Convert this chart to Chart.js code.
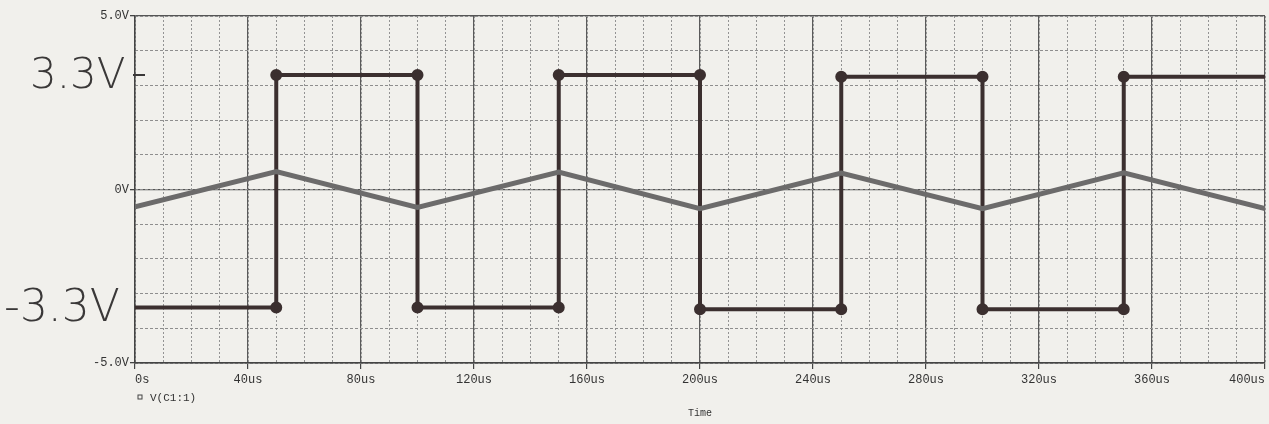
<!DOCTYPE html>
<html lang="en">
    <head>
        <meta charset="UTF-8" />
        <title>V(C1:1)</title>
        <script src="https://cdn.jsdelivr.net/npm/chart.js"></script>
        <style>
            body {
                margin: 0;
                background-color: #f1f0ec;
            }

            #wrap {
                width: 1269px;
                height: 424px;
                position: relative;
            }
        </style>
    </head>
    <body>
        <div id="wrap"><canvas id="scope"></canvas></div>

        <script>
            // square wave (dark trace), time in us
            const squareTime = [0, 50, 50, 100, 100, 150, 150, 200, 200, 250, 250, 300, 300, 350, 350, 400];
            const squareVolt = [-3.4, -3.4, 3.3, 3.3, -3.4, -3.4, 3.3, 3.3, -3.45, -3.45, 3.25, 3.25, -3.45, -3.45, 3.25, 3.25];

            // triangle wave (grey trace)
            const triTime = [0, 50, 100, 150, 200, 250, 300, 350, 400];
            const triVolt = [-0.5, 0.52, -0.52, 0.5, -0.55, 0.47, -0.55, 0.48, -0.55];

            const xTicks = [0, 40, 80, 120, 160, 200, 240, 280, 320, 360, 400];
            const yTicks = [-5, 0, 5];

            const monoFont = { family: 'Liberation Mono, DejaVu Sans Mono, monospace', size: 12 };

            const toPoints = (xs, ys) => xs.map((x, i) => ({ x: x, y: ys[i] }));

            // handwritten notes, legend label and small pen mark
            const notes = {
                id: 'notes',
                afterDraw(chart) {
                    const c = chart.ctx;
                    const y = chart.scales.y;
                    const left = chart.chartArea.left;
                    c.save();
                    c.fillStyle = '#3a3838';
                    c.textBaseline = 'middle';
                    c.font = '300 42px "DejaVu Sans", sans-serif';
                    c.fillText('3.3V', 30, y.getPixelForValue(3.3) + 2);
                    c.font = '300 44px "DejaVu Sans", sans-serif';
                    c.fillText('-3.3V', 4, y.getPixelForValue(-3.4) + 2);

                    c.strokeStyle = '#3a3838';
                    c.lineWidth = 2;
                    c.beginPath();
                    c.moveTo(left - 2, y.getPixelForValue(3.3));
                    c.lineTo(left + 10, y.getPixelForValue(3.3));
                    c.stroke();

                    // legend entry
                    c.font = '11px ' + monoFont.family;
                    c.fillStyle = '#333';
                    c.lineWidth = 1;
                    c.strokeStyle = '#444';
                    c.strokeRect(left + 3, 395, 4, 4);
                    c.fillText('V(C1:1)', left + 15, 398);
                    c.restore();
                },
            };

            new Chart(document.getElementById('scope'), {
                type: 'line',
                data: {
                    datasets: [
                        {
                            label: 'triangle',
                            data: toPoints(triTime, triVolt),
                            borderColor: '#6c6b6b',
                            borderWidth: 5,
                            pointRadius: 0,
                        },
                        {
                            label: 'V(C1:1)',
                            data: toPoints(squareTime, squareVolt),
                            borderColor: '#3b2f2f',
                            backgroundColor: '#3b2f2f',
                            borderWidth: 4,
                            pointRadius: (ctx) =>
                                ctx.dataIndex === 0 || ctx.dataIndex === squareTime.length - 1 ? 0 : 4,
                        },
                    ],
                },
                options: {
                    responsive: true,
                    maintainAspectRatio: false,
                    animation: false,
                    layout: { padding: { top: 16, right: 4 } },
                    plugins: {
                        legend: { display: false },
                        tooltip: { enabled: false },
                    },
                    scales: {
                        x: {
                            type: 'linear',
                            min: 0,
                            max: 400,
                            afterBuildTicks: (s) => {
                                s.ticks = xTicks.map((v) => ({ value: v }));
                            },
                            afterFit: (s) => {
                                s.height = 61;
                                s.paddingLeft = 0;
                                s.paddingRight = 0;
                            },
                            ticks: {
                                font: monoFont,
                                color: '#333',
                                padding: 4,
                                maxRotation: 0,
                                align: 'inner',
                                callback: (v) => (v === 0 ? '0s' : v + 'us'),
                            },
                            grid: { color: '#5a5a5a', lineWidth: 1.2, tickLength: 6, tickColor: '#444' },
                            border: { color: '#444', width: 1.5 },
                            title: {
                                display: true,
                                text: 'Time',
                                font: { family: monoFont.family, size: 10 },
                                color: '#333',
                                padding: { top: 0, bottom: 5 },
                            },
                        },
                        xMinor: {
                            type: 'linear',
                            position: 'bottom',
                            min: 0,
                            max: 400,
                            ticks: { display: false, stepSize: 10 },
                            afterFit: (s) => {
                                s.height = 0;
                            },
                            grid: { color: '#939393', lineWidth: 1, drawTicks: false },
                            border: { display: false, dash: [2, 2] },
                        },
                        y: {
                            min: -5,
                            max: 5,
                            afterBuildTicks: (s) => {
                                s.ticks = yTicks.map((v) => ({ value: v }));
                            },
                            afterFit: (s) => {
                                s.width = 135;
                                s.paddingTop = 0;
                                s.paddingBottom = 0;
                            },
                            ticks: {
                                font: monoFont,
                                color: '#333',
                                padding: 1,
                                callback: (v) => (v === 0 ? '0V' : v.toFixed(1) + 'V'),
                            },
                            grid: { color: '#555', lineWidth: 1.3, tickLength: 5, tickColor: '#444' },
                            border: { color: '#444', width: 1.5 },
                        },
                        yMinor: {
                            position: 'left',
                            min: -5,
                            max: 5,
                            ticks: { display: false, stepSize: 1 },
                            afterFit: (s) => {
                                s.width = 0;
                            },
                            grid: { color: '#8e8e8e', lineWidth: 1, drawTicks: false },
                            border: { display: false, dash: [3, 2] },
                        },
                    },
                },
                plugins: [notes],
            });
        </script>
    </body>
</html>
